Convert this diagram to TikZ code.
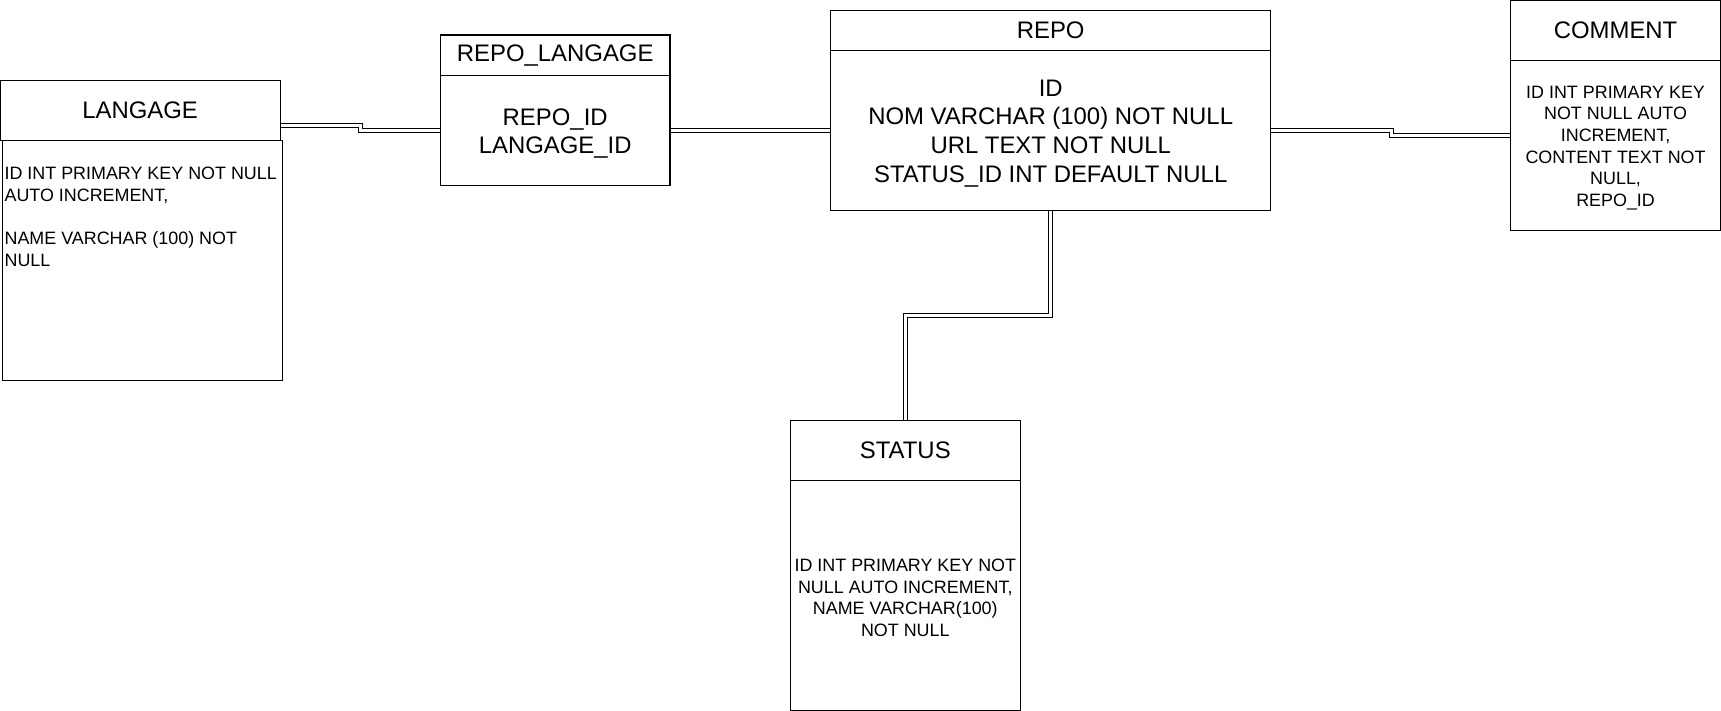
\documentclass[tikz,border=0pt]{standalone}
\usepackage{fontspec}
\setmainfont{Liberation Sans}
\newcommand{\bigf}{\fontsize{23.9}{28.7}\selectfont}
\newcommand{\smallf}{\fontsize{17.9}{21.7}\selectfont}
\begin{document}
\begin{tikzpicture}[x=1pt,y=1pt,
  tbox/.style={draw, line width=1.1pt, inner sep=0pt, align=center, fill=white},
  btxt/.style={inner sep=0pt, align=center, font=\bigf, yshift=-3.2pt},
  stxt/.style={inner sep=0pt, align=center, font=\smallf, yshift=-2.6pt},
  dbl/.style={draw, line width=1.1pt, double=white, double distance=2.8pt}]
\useasboundingbox (0,0) rectangle (1721,-711);
% LANGAGE
\node[tbox, minimum width=280.3, minimum height=60, font=\bigf] (langhead) at (140.15,-110.3) {LANGAGE};
\node[tbox, minimum width=280, minimum height=240] (langbody) at (142.7,-260.3) {};
\node[inner sep=0pt, anchor=north west, align=left, font=\smallf] (langtxt) at (4.4,-166.9)
  {ID INT PRIMARY KEY NOT NULL\\AUTO INCREMENT,\\[21.7pt]NAME VARCHAR (100) NOT\\NULL};
% REPO_LANGAGE
\node[tbox, minimum width=229.6, minimum height=40.3, font=\bigf] (rlhead) at (555.2,-55.15) {REPO\_LANGAGE};
\node[tbox, minimum width=229.6, minimum height=110] (rlbody) at (555.2,-130.3) {};
\node[btxt] (rltxt) at (rlbody.center) {REPO\_ID\\LANGAGE\_ID};
% REPO
\node[tbox, minimum width=439.6, minimum height=40, font=\bigf] (repohead) at (1050.7,-30.3) {REPO};
\node[tbox, minimum width=439.6, minimum height=160] (repobody) at (1050.7,-130.3) {};
\node[btxt] (repotxt) at (repobody.center)
  {ID\\NOM VARCHAR (100) NOT NULL\\URL TEXT NOT NULL\\STATUS\_ID INT DEFAULT NULL};
% COMMENT
\node[tbox, minimum width=209.7, minimum height=59.7, font=\bigf] (comhead) at (1615.55,-30.45) {COMMENT};
\node[tbox, minimum width=209.7, minimum height=170] (combody) at (1615.55,-145.3) {};
\node[stxt] (comtxt) at (combody.center)
  {ID INT PRIMARY KEY\\NOT NULL AUTO\\INCREMENT,\\CONTENT TEXT NOT\\NULL,\\REPO\_ID};
% STATUS
\node[tbox, minimum width=230, minimum height=60, font=\bigf] (stathead) at (905.3,-450.3) {STATUS};
\node[tbox, minimum width=230, minimum height=229.9] (statbody) at (905.3,-595.25) {};
\node[stxt] (stattxt) at (statbody.center)
  {ID INT PRIMARY KEY NOT\\NULL AUTO INCREMENT,\\NAME VARCHAR(100)\\NOT NULL};
% connectors
\draw[dbl] ([yshift=-15pt]langhead.east) -- ++(79.7,0) |- (rlbody.west);
\draw[dbl] (rlbody.east) -- (repobody.west);
\draw[dbl] (repobody.east) -- ++(120.2,0) |- ([yshift=10pt]combody.west);
\draw[dbl] (repobody.south) -- ++(0,-105) -| (stathead.north);
\end{tikzpicture}
\end{document}
